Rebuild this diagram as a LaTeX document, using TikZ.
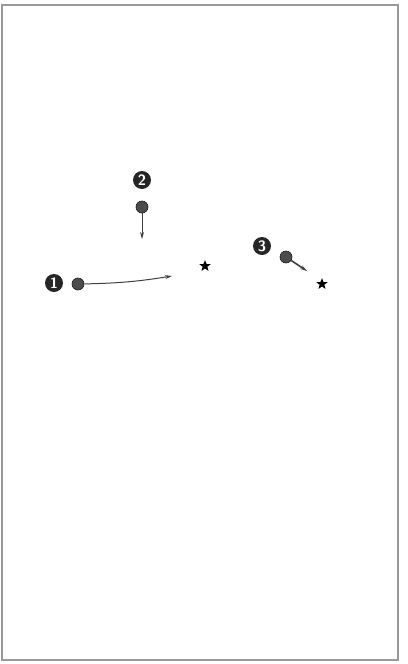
\documentclass[tikz,border=0pt]{standalone}
\usetikzlibrary{arrows.meta,shapes.geometric}
\begin{document}
\begin{tikzpicture}[x=1pt,y=-1pt,
  badge/.style={circle,fill=black!85,text=white,inner sep=0pt,minimum size=18pt,font=\sffamily\bfseries\fontsize{15}{15}\selectfont},
  player/.style={circle,fill=black!70,draw=black!90,line width=0.6pt,inner sep=0pt,minimum size=12pt},
  goal/.style={star,star points=5,star point ratio=2.4,fill=black,inner sep=0pt,minimum size=12pt},
  run/.style={draw=black!75,line width=1pt,-{Stealth[length=7pt,width=4pt]}}]
\useasboundingbox (0,0) rectangle (407,664);
\draw[black!40,line width=1.2pt] (2,5) rectangle (398,660);
\node[badge] (b1) at (54,283) {1};
\node[player] (p1) at (78,284) {};
\coordinate (e1) at (172,276);
\draw[run] (p1) to[bend right=4] (e1);
\node[goal] (s1) at (205,266) {};
\node[badge] (b2) at (142,180) {2};
\node[player] (p2) at (142,207) {};
\coordinate (e2) at (142,239);
\draw[run] (p2) -- (e2);
\node[badge] (b3) at (262,246) {3};
\node[player] (p3) at (286,257) {};
\coordinate (e3) at (307,271);
\draw[run,line width=1.6pt] (p3) -- (e3);
\node[goal] (s2) at (322,284) {};
\end{tikzpicture}
\end{document}
